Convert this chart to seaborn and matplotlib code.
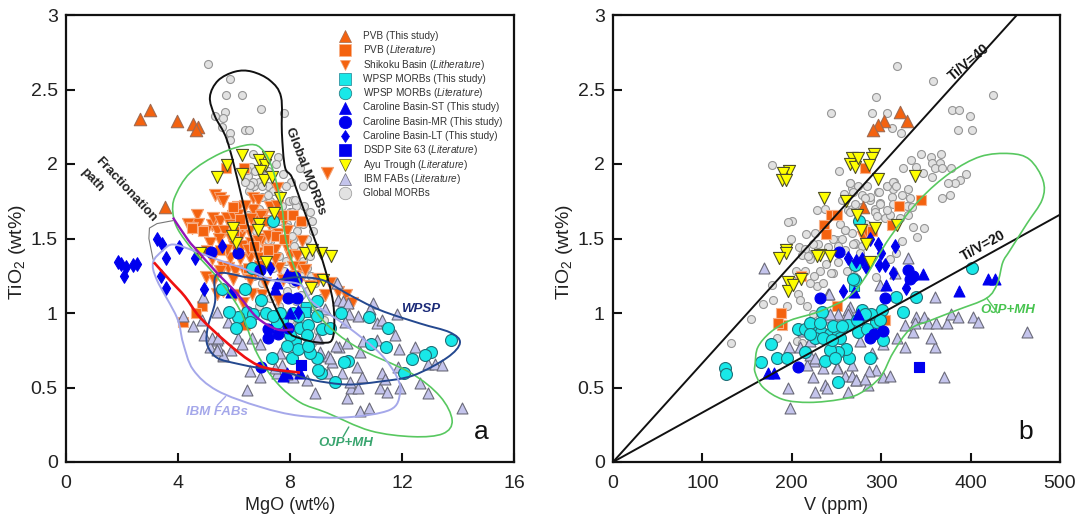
import numpy as np
import seaborn as sns
import matplotlib.pyplot as plt
from matplotlib.patches import PathPatch
from matplotlib.path import Path

# ---- panel a: MgO vs TiO2
a_morb = [(5.07,2.67),(5.86,2.57),(5.71,2.46),(6.29,2.46),(6.96,2.37),(7.79,2.34),(5.68,2.35),(5.32,2.32),(5.61,2.31),
          (5.57,2.25),(5.86,2.21),(5.86,2.16),(6.39,2.23),(6.54,2.23),(7.57,2.05),(6.68,2.07),(7.5,2.0),(6.6,1.98),(6.5,1.9),
          (6.55,1.82),(6.7,1.85),(6.9,1.88),(7.2,1.85),(7.4,1.82),(7.0,1.78),(7.3,1.75),(7.6,1.8),(7.7,1.72),(8.0,1.68),
          (8.2,1.72),(8.5,1.72),(8.3,1.6),(7.9,1.6),(7.5,1.7),(6.9,1.7),(7.1,1.62),(7.4,1.55),(7.7,1.5),(8.1,1.5),(8.3,1.42),
          (8.6,1.5),(8.8,1.62),(8.7,1.38),(8.0,1.4),(7.6,1.38),(7.3,1.48),(6.8,1.55),(6.5,1.66),(6.9,1.45),(7.1,1.38),(7.4,1.3),
          (7.8,1.28),(8.1,1.2),(8.4,1.25),(8.6,1.15),(8.9,1.2),(9.1,1.1),(8.8,1.05),(8.5,1.05),(8.3,0.92),(8.0,0.95),(7.6,1.05),
          (7.3,1.1),(7.0,1.2),(6.7,1.25),(6.4,1.3),(9.0,0.88),(9.2,0.95),(8.8,0.8),(7.95,1.75),(8.45,1.85),(8.35,1.97),(8.1,1.76),
          (7.2,1.95),(7.75,1.93),(8.05,1.88),(6.75,1.95),(8.6,1.3),(7.9,1.15),(6.9,1.05),(7.2,0.98),(8.2,1.08),(6.51,1.92),
          (6.69,1.88),(6.57,1.86),(7.0,1.85),(7.23,1.79),(7.85,1.85),(8.18,1.76),(8.06,1.68),(8.72,1.68),(8.48,1.6),(8.83,1.55),
          (8.24,1.55),(8.06,1.52),(7.23,1.49),(7.88,1.58),(6.45,1.96),(6.4,1.88),(7.1,1.92),(7.6,1.62),(8.15,1.45),(8.45,1.35),
          (8.75,1.25),(8.4,1.12),(9.0,1.0),(7.85,1.35)]
a_shikoku = [(5.32,1.79),(5.5,1.77),(5.62,1.75),(4.67,1.66),(4.55,1.59),(4.73,1.6),(5.2,1.59),(5.26,1.64),(5.5,1.62),(5.74,1.64),
             (5.98,1.65),(5.86,1.59),(6.16,1.71),(6.16,1.66),(6.39,1.62),(6.69,1.77),(6.87,1.76),(6.69,1.69),(7.29,1.71),(7.53,1.84),
             (7.58,1.53),(7.0,1.5),(6.22,1.51),(8.42,1.48),(7.11,1.37),(6.81,1.4),(6.57,1.37),(7.47,1.42),(7.17,1.42),(5.62,1.31),
             (5.8,1.3),(6.04,1.28),(6.39,1.27),(6.87,1.37),(7.0,1.31),(8.0,1.39),(8.24,1.38),(8.36,1.31),(8.54,1.29),(9.01,1.23),
             (9.43,1.2),(5.98,1.23),(6.57,1.22),(8.12,1.31),(9.31,1.94),(4.35,1.6),(4.5,1.57),(5.0,1.55),(5.4,1.55),(5.65,1.55),
             (5.9,1.5),(6.0,1.58),(6.3,1.58),(6.55,1.55),(6.75,1.62),(6.9,1.58),(7.05,1.66),(7.25,1.6),(6.4,1.72),(6.0,1.45),
             (6.3,1.45),(6.6,1.47),(6.85,1.48),(7.2,1.52),(7.55,1.72),(7.8,1.62),(7.85,1.45),(7.6,1.3),(7.3,1.3),(7.75,1.22),
             (8.3,1.2),(8.7,1.18),(9.7,1.14),(10.0,1.12),(10.2,1.07),(9.25,1.12),(5.39,1.13),(5.5,1.28),(5.2,1.36),(5.0,1.24),
             (5.3,1.22),(5.6,1.15),(6.04,1.12),(6.33,1.07),(6.63,1.13),(7.0,1.12),(7.1,1.2),(7.58,1.09),(6.75,1.27),
             (5.45,1.5),(5.15,1.47),(6.5,1.42),(6.2,1.36),(5.85,1.37),(7.35,1.62),(7.45,1.36),(7.9,1.55),(8.15,1.25),(6.95,1.65),
             (6.6,1.63),(5.75,1.42)]
a_pvb_this = [(2.64,2.3),(3.0,2.36),(3.96,2.29),(4.53,2.27),(4.71,2.25),(4.64,2.23),(3.54,1.71)]
a_pvb_lit = [(4.18,0.94),(4.86,1.05),(4.64,1.0),(6.36,1.97),(5.71,1.97),(4.5,1.57),(8.1,1.66),(6.3,1.6),(6.0,1.55),(6.7,1.45),
             (5.5,1.42),(7.7,1.66),(7.2,1.62),(8.4,1.62),(7.5,1.52),(6.39,0.92),(4.9,1.55),(5.98,1.71),(6.5,1.3),(5.0,1.42),(7.8,1.5),
             (6.2,1.63),(7.2,1.42),(6.9,1.32)]
a_fab = [(6.46,0.48),(4.18,0.98),(4.54,0.91),(4.86,0.95),(5.38,1.01),(4.93,0.85),(5.39,0.82),(5.14,0.77),(5.43,0.77),(5.89,0.75),
         (5.61,0.71),(6.15,0.83),(6.27,0.79),(6.63,0.83),(6.93,0.79),(6.57,0.61),(6.93,0.57),(7.54,0.6),(5.79,0.94),(4.89,1.11),
         (8.89,0.46),(10.04,0.43),(10.5,0.34),(10.82,0.36),(10.18,0.5),(10.43,0.5),(11.21,0.5),(11.46,0.47),(11.93,0.5),(12.64,0.53),
         (12.93,0.46),(14.14,0.36),(11.29,0.6),(10.57,0.57),(10.39,0.64),(9.86,0.6),(9.5,0.67),(9.36,0.71),(11.86,0.64),(12.93,0.66),
         (13.18,0.66),(13.43,0.65),(12.46,0.77),(11.89,0.76),(10.5,0.74),(9.75,0.77),(10.04,0.8),(10.61,0.81),(11.11,0.82),(11.75,0.85),
         (11.11,0.93),(11.29,0.95),(11.82,0.99),(10.96,1.07),(10.86,1.03),(10.43,0.98),(10.11,0.99),(9.96,0.94),(9.71,1.09),(9.9,1.08),
         (10.07,1.07),(9.68,1.2),(9.0,0.83),(9.25,1.03),(9.07,0.74),(8.61,0.55),(8.11,0.57),(9.36,0.6),(10.14,0.54),(11.39,0.56),
         (5.2,0.83),(5.44,0.83),(5.62,0.72),(5.38,0.75),(7.64,0.73),(7.7,0.65),(7.46,0.63),(7.88,0.59),(9.43,0.7),(9.66,0.78),(8.95,0.83)]
a_wpsp_lit = [(13.75,0.82),(13.04,0.74),(12.82,0.72),(12.36,0.69),(12.07,0.6),(11.43,0.77),(10.89,0.79),(11.5,0.9),(10.82,0.97),
              (9.82,1.0),(10.07,0.68),(9.93,0.67),(9.61,0.54),(9.11,0.6),(9.01,0.62),(8.96,0.7),(8.64,0.77),(8.71,0.73),(8.18,0.81),
              (8.06,0.7),(8.35,0.9),(8.65,0.92),(9.13,0.89),(9.43,0.9),(8.95,0.98),(8.95,1.08),(8.59,0.85),(8.0,0.85),(7.7,0.95),
              (7.64,1.0),(7.34,0.7),(7.16,1.0),(6.95,1.09),(6.45,1.01),(6.13,0.97),(5.83,1.01),(6.07,0.9),(6.69,0.99),(6.57,0.94),
              (5.57,1.16),(6.39,1.16),(6.64,1.3),(7.52,0.93),(7.4,0.98),(8.3,0.76),(8.65,0.78),(7.39,1.62),(8.11,1.0),(8.3,0.98),(7.9,0.78)]
a_wpsp_this = [(8.57,1.04),(8.53,1.01)]
a_st = [(8.0,1.0),(7.46,1.16),(7.88,1.26),(5.91,1.14),(7.75,0.58),(8.36,0.6),(7.89,0.6),(7.55,1.2)]
a_mr = [(5.18,1.41),(6.14,1.4),(6.93,1.29),(7.94,1.1),(8.26,1.1),(7.22,0.89),(7.22,0.83),(7.58,0.86),(7.94,0.9),(6.98,0.64),
        (8.18,1.24),(8.21,1.22),(7.95,1.24)]
a_lt = [(1.86,1.34),(1.95,1.33),(2.14,1.31),(2.07,1.25),(2.38,1.32),(2.54,1.33),(3.25,1.5),(3.43,1.46),(3.57,1.37),(4.04,1.44),
        (3.39,1.25),(3.57,1.17),(4.61,1.37),(4.93,1.16),(5.57,1.45),(7.29,1.3),(8.3,1.01)]
a_dsdp = [(8.41,0.65)]
a_ayu = [(6.29,2.06),(5.75,1.99),(5.39,1.91),(6.29,1.93),(6.89,2.03),(7.11,1.99),(6.93,1.95),(7.07,1.89),(7.36,1.91),(7.21,2.05),
         (7.64,1.77),(7.43,1.67),(5.96,1.57),(6.89,1.6),(6.86,1.56),(4.79,1.4),(6.07,1.47),(7.14,1.34),(8.54,1.4),(8.79,1.42),
         (9.11,1.4),(9.46,1.38),(9.18,1.22),(8.75,1.17),(5.93,1.52)]

a_outline_morb = [(5.14,2.45),(5.43,2.56),(6.04,2.62),(6.64,2.62),(7.29,2.56),(7.68,2.45),(7.71,2.21),(7.82,1.98),(8.07,1.91),
                  (8.46,1.71),(8.89,1.49),(9.18,1.34),(9.54,1.07),(9.54,0.84),(9.18,0.8),(8.36,0.83),(7.89,0.89),(7.18,1.17),
                  (6.57,1.54),(6.21,1.83),(5.75,2.16),(5.32,2.32)]
a_outline_ojp = [(3.82,1.67),(3.89,1.78),(4.43,1.94),(5.5,2.07),(6.57,2.13),(7.04,2.09),(7.39,1.96),(7.71,1.71),(7.89,1.46),
                 (8.46,1.17),(9.18,0.95),(10.39,0.77),(12.29,0.6),(13.36,0.44),(13.79,0.28),(13.46,0.19),(12.39,0.17),(10.86,0.21),
                 (9.32,0.33),(8.36,0.4),(7.54,0.53),(6.82,0.73),(6.21,1.02),(5.39,1.24),(4.54,1.42),(4.0,1.56)]
a_outline_wpsp = [(5.39,1.26),(5.32,1.07),(5.07,0.91),(5.04,0.79),(5.39,0.7),(6.11,0.66),(6.93,0.63),(7.89,0.6),(8.82,0.55),
                  (10.04,0.52),(11.21,0.54),(12.39,0.58),(13.61,0.7),(14.07,0.8),(13.71,0.87),(12.64,0.93),(11.21,1.02),
                  (10.04,1.13),(9.18,1.22),(8.25,1.24),(7.39,1.22),(6.46,1.24)]
a_outline_fab = [(3.11,1.34),(3.46,1.42),(3.82,1.46),(4.54,1.42),(5.39,1.36),(6.46,1.29),(7.39,1.22),(8.36,1.19),(8.82,1.07),
                 (10.04,0.91),(11.21,0.73),(11.82,0.57),(11.93,0.46),(11.57,0.35),(10.04,0.3),(8.36,0.31),(6.93,0.37),(5.39,0.48),
                 (4.54,0.62),(4.18,0.8),(3.96,0.97),(3.25,1.22)]
a_red_path = [(3.14,1.34),(3.71,1.22),(4.25,1.11),(4.79,0.97),(5.75,0.8),(6.57,0.68),(7.18,0.63),(8.36,0.6)]
a_purple_path = [(3.82,1.64),(4.36,1.49),(4.68,1.42),(5.39,1.27),(6.11,1.13),(6.82,0.97),(7.54,0.89),(8.11,0.89)]
a_bracket = [(3.82,1.62),(3.25,1.6),(2.98,1.57),(2.96,1.5),(3.11,1.36)]

# ---- panel b: V vs TiO2
b_morb = [(244,2.34),(178,1.99),(253,1.95),(200,1.62),(196,1.61),(199,1.5),(228,1.69),(237,1.7),(226,1.54),(208,1.44),(220,1.36),
          (217,1.4),(229,1.46),(240,1.44),(260,1.56),(267,1.54),(271,1.46),(251,1.49),(265,1.87),(260,1.78),(267,1.84),(274,1.85),
          (263,1.69),(274,1.71),(245,1.27),(252,1.34),(318,2.66),(358,2.56),(294,2.45),(425,2.46),(290,2.34),(306,2.34),(379,2.36),
          (387,2.36),(399,2.32),(386,2.23),(402,2.23),(322,2.21),(312,2.24),(345,2.07),(356,2.05),(367,2.07),(333,2.03),(366,2.01),
          (357,2.01),(339,1.98),(324,1.97),(360,1.97),(368,1.97),(378,1.97),(347,1.94),(357,1.91),(395,1.93),(388,1.89),(383,1.87),
          (375,1.87),(377,1.79),(368,1.77),(314,1.88),(306,1.85),(313,1.83),(330,1.83),(296,1.81),(284,1.85),(278,1.79),(287,1.76),
          (299,1.74),(312,1.78),(332,1.77),(329,1.72),(293,1.7),(278,1.71),(267,1.7),(304,1.64),(330,1.66),(336,1.58),(348,1.57),
          (340,1.51),(321,1.64),(271,1.47),(323,1.48),(310,1.36),(294,1.24),(254,1.6),(154,0.96),(132,0.8),(168,1.06),(179,1.09),
          (178,1.19),(195,1.05),(207,1.13),(209,1.09),(217,1.05),(228,1.18),(220,1.2),(246,1.27),(224,0.99),(206,0.81),(183,0.83),
          (211,0.8),(254,0.93),(215,1.43),(211,1.39),(218,1.38),(224,1.46),(256,1.76),(258,1.8),(265,1.87),(269,1.81),(287,1.78),
          (297,1.81),(282,1.77),(299,1.73),(293,1.68),(295,1.65),(271,1.73),(265,1.68),(259,1.56),(256,1.5),(246,1.5),(252,1.45),
          (269,1.46),(278,1.45),(259,1.42),(276,1.4),(306,1.85),(313,1.88),(317,1.85),(323,1.79),(313,1.73),(310,1.66),(334,1.71),
          (306,1.69),(244,1.27),(317,1.4),(216,1.53),(238,1.33),(232,1.28),(262,1.28),(270,1.25),(215,1.28),(225,1.25),(235,1.2),
          (205,1.28),(200,1.22),(283,1.6),(288,1.53)]
b_pvb_this = [(321,2.35),(329,2.29),(303,2.29),(296,2.26),(291,2.23),(280,1.71)]
b_pvb_lit = [(236,1.59),(244,1.66),(251,1.66),(238,1.53),(210,1.25),(282,1.97),(345,1.76),(320,1.72),(312,1.59),(290,1.55),(188,1.0),
             (189,0.92),(185,0.93),(251,1.05),(304,0.95)]
b_shikoku = [(280,1.51),(283,1.55)]
b_fab = [(169,1.3),(198,0.36),(196,0.5),(197,0.77),(226,0.47),(237,0.52),(239,0.5),(224,0.57),(263,0.47),(260,0.58),(267,0.58),
         (272,0.55),(251,0.64),(235,0.63),(224,0.84),(209,0.77),(225,0.68),(217,0.65),(240,1.13),(265,1.04),(240,0.97),(252,0.99),
         (263,1.02),(220,0.72),(463,0.87),(360,1.11),(370,0.57),(360,0.77),(327,0.77),(356,0.83),(336,0.87),(318,0.83),(327,0.92),
         (339,0.97),(338,0.93),(348,0.97),(352,0.93),(361,0.93),(374,0.93),(378,0.99),(386,0.97),(403,0.97),(408,0.94),(290,0.73),
         (294,0.62),(286,0.61),(302,0.57),(310,0.58),(276,0.81),(272,0.55),(285,0.52),(282,0.56),(302,0.79),(267,0.65),(330,1.37),(299,1.19),
         (242,1.13),(243,0.99),(263,0.99),(250,0.63),(226,0.7),(220,0.81),(315,1.27),(230,0.93),(212,0.88)]
b_wpsp_lit = [(125,0.63),(126,0.59),(165,0.67),(177,0.79),(183,0.7),(195,0.7),(207,0.89),(215,0.89),(224,0.87),(233,0.87),(243,0.86),
              (234,1.01),(263,0.92),(252,0.87),(271,1.22),(269,1.23),(271,1.32),(275,1.62),(402,1.3),(339,1.11),(317,1.11),(324,1.01),
              (302,0.82),(288,0.7),(264,0.7),(252,0.54),(261,0.76),(252,0.74),(294,0.94),(301,1.02),(289,0.99),(279,1.02),(274,0.87),
              (284,0.89),(243,0.75),(237,0.68),(248,0.7),(226,0.83),(235,0.83),(254,0.83),(215,0.74),(220,0.93),(246,0.91),(256,0.91),
              (273,0.95),(282,0.99),(299,0.95),(220,0.86),(232,0.93),(245,0.82)]
b_wpsp_this = [(270,1.18),(275,0.95)]
b_st = [(347,1.26),(305,1.19),(270,1.14),(387,1.15),(419,1.23),(427,1.23),(274,0.99),(173,0.6),(180,0.6)]
b_mr = [(253,1.41),(231,1.1),(207,0.64),(330,1.29),(336,1.25),(332,1.23),(304,1.1),(302,0.88),(292,0.86),(288,0.83)]
b_lt = [(263,1.37),(272,1.35),(278,1.36),(283,1.31),(287,1.5),(296,1.46),(300,1.4),(315,1.45),(298,1.32),(304,1.32),(313,1.27),
        (257,1.15),(328,1.17)]
b_dsdp = [(342,0.64)]
b_ayu = [(197,1.95),(190,1.94),(189,1.89),(193,1.89),(236,1.77),(193,1.42),(194,1.4),(186,1.37),(232,1.39),(243,1.38),(228,1.38),(267,2.04),
         (265,2.0),(271,1.98),(274,2.04),(261,1.75),(273,1.66),(196,1.21),(196,1.15),(201,1.19),(210,1.23),(292,2.07),(290,2.04),
         (286,1.99),(296,1.9),(338,1.92),(277,1.56),(293,1.57),(318,1.59),(288,1.34),(283,1.46)]
b_outline_ojp = [(159,0.66),(162,0.77),(176,0.87),(198,0.95),(235,1.02),(271,1.15),(310,1.51),(343,1.76),(377,1.94),(411,2.05),
                 (444,2.07),(466,2.03),(481,1.89),(480,1.76),(463,1.6),(444,1.42),(436,1.34),(430,1.2),(418,1.1),(385,1.02),
                 (355,0.95),(332,0.89),(313,0.73),(299,0.57),(276,0.46),(254,0.42),(220,0.4),(190,0.42),(168,0.5),(159,0.6)]
ti_v_lines = {"Ti/V=40": 3.32, "Ti/V=20": 1.66}  # TiO2 at V = 500 (40 runs off the top)

legend_labels = ["PVB (This study)", r"PVB ($\mathit{Literature}$)", r"Shikoku Basin ($\mathit{Litherature}$)",
                 "WPSP MORBs (This study)", r"WPSP MORBs ($\mathit{Literature}$)", "Caroline Basin-ST (This study)",
                 "Caroline Basin-MR (This study)", "Caroline Basin-LT (This study)", r"DSDP Site 63 ($\mathit{Literature}$)",
                 r"Ayu Trough ($\mathit{Literature}$)", r"IBM FABs ($\mathit{Literature}$)", "Global MORBs"]

# marker, size, face, edge
ORANGE = "#f4620f"
BLUE = "#0000ee"
STYLES = {
    "morb": ("o", 33, "#e2e2e2", "#969696"),
    "fab": ("^", 62, "#c4c4ec", "#6a6a78"),
    "shikoku": ("v", 76, ORANGE, "#f4a070"),
    "pvb_this": ("^", 80, ORANGE, "#a06a50"),
    "pvb_lit": ("s", 60, ORANGE, "#f8b088"),
    "wpsp_this": ("s", 52, "#18e8e8", "#208090"),
    "wpsp_lit": ("o", 74, "#18e8e8", "#207078"),
    "st": ("^", 62, BLUE, BLUE),
    "mr": ("o", 62, BLUE, BLUE),
    "lt": ("d", 48, BLUE, BLUE),
    "dsdp": ("s", 58, BLUE, BLUE),
    "ayu": ("v", 76, "#ffff00", "#505028"),
}
LEGEND_ORDER = ["pvb_this", "pvb_lit", "shikoku", "wpsp_this", "wpsp_lit", "st", "mr", "lt", "dsdp", "ayu", "fab", "morb"]
LEGEND_MS = {"pvb_this": 9, "pvb_lit": 8.5, "shikoku": 7, "wpsp_this": 8.5, "wpsp_lit": 9, "st": 8, "mr": 9, "lt": 6.5,
             "dsdp": 8.5, "ayu": 8, "fab": 9, "morb": 9}


def scatter(ax, pts, key):
    marker, size, face, edge = STYLES[key]
    sns.scatterplot(x=[p[0] for p in pts], y=[p[1] for p in pts], ax=ax, marker=marker, s=size,
                    color=face, edgecolor=edge, linewidth=0.8, legend=False, zorder=3, clip_on=False)


def smooth_curve(ax, pts, color, lw=1.5, closed=True, zorder=5):
    # Catmull-Rom through the vertices, drawn as bezier segments
    p = np.array(pts, dtype=float)
    n = len(p)
    verts = [p[0]]
    codes = [Path.MOVETO]
    for i in range(n if closed else n - 1):
        if closed:
            p0, p1, p2, p3 = p[(i - 1) % n], p[i], p[(i + 1) % n], p[(i + 2) % n]
        else:
            p0, p1, p2, p3 = p[max(i - 1, 0)], p[i], p[i + 1], p[min(i + 2, n - 1)]
        verts += [p1 + (p2 - p0) / 6, p2 - (p3 - p1) / 6, p2]
        codes += [Path.CURVE4] * 3
    ax.add_patch(PathPatch(Path(verts, codes), fill=False, edgecolor=color, lw=lw, zorder=zorder))


def style_axes(ax, xmax, xticks, xlabel, letter):
    ax.set_xlim(0, xmax)
    ax.set_ylim(0, 3)
    ax.set_xticks(xticks)
    ax.set_yticks([0, 0.5, 1, 1.5, 2, 2.5, 3])
    ax.set_yticklabels(["0", "0.5", "1", "1.5", "2", "2.5", "3"])
    ax.tick_params(direction="in", length=6.5, width=1.5, labelsize=14, color="#111111", labelcolor="#222222")
    ax.tick_params(axis="x", pad=9)
    ax.tick_params(axis="y", pad=6)
    for side in ax.spines:
        ax.spines[side].set_linewidth(1.6)
        ax.spines[side].set_color("#111111")
    ax.set_xlabel(xlabel, fontsize=13, labelpad=4, color="#222222")
    ax.set_ylabel(r"TiO$_2$ (wt%)", fontsize=14, color="#222222")
    ax.yaxis.set_label_coords(-0.085, 0.47)
    ax.text(0.927 if letter == "a" else 0.924, 0.067, letter, transform=ax.transAxes, fontsize=19,
            ha="center", va="center", color="#111111")


sns.set_theme(style="ticks")
plt.rcParams["font.family"] = ["Liberation Sans", "DejaVu Sans"]
plt.rcParams["mathtext.fontset"] = "custom"
plt.rcParams["mathtext.rm"] = "Liberation Sans"
plt.rcParams["mathtext.it"] = "Liberation Sans:italic"

fig = plt.figure(figsize=(10.8, 5.24), dpi=100)
ax_a = fig.add_axes([66 / 1080, 62 / 524, 448 / 1080, 447 / 524])
ax_b = fig.add_axes([613 / 1080, 62 / 524, 447 / 1080, 447 / 524])

# panel a
for pts, key in [(a_morb, "morb"), (a_shikoku, "shikoku"), (a_pvb_lit, "pvb_lit"), (a_pvb_this, "pvb_this"), (a_fab, "fab"),
                 (a_wpsp_this, "wpsp_this"), (a_wpsp_lit, "wpsp_lit"), (a_st, "st"), (a_mr, "mr"), (a_lt, "lt"),
                 (a_dsdp, "dsdp"), (a_ayu, "ayu")]:
    scatter(ax_a, pts, key)

smooth_curve(ax_a, a_outline_morb, "#111111", lw=1.4)
smooth_curve(ax_a, a_outline_ojp, "#58c860", lw=1.2)
smooth_curve(ax_a, a_outline_wpsp, "#24488f", lw=1.4)
smooth_curve(ax_a, a_outline_fab, "#a5a8ea", lw=1.4)
smooth_curve(ax_a, a_red_path, "#ee1111", lw=1.9, closed=False)
smooth_curve(ax_a, a_purple_path, "#9414b8", lw=1.7, closed=False)
ax_a.plot([p[0] for p in a_bracket], [p[1] for p in a_bracket], color="#777777", lw=0.8, zorder=4)
ax_a.plot([5.7, 5.4], [0.44, 0.38], color="#a5a8ea", lw=1.0, zorder=4)
ax_a.plot([10.1, 9.9], [0.235, 0.17], color="#3aa56f", lw=1.0, zorder=4)

ax_a.text(2.15, 1.83, "Fractionation", rotation=-47, fontsize=9.5, fontweight="bold", ha="center", va="center", color="#222222")
ax_a.text(0.93, 1.89, "path", rotation=-47, fontsize=9.5, fontweight="bold", ha="center", va="center", color="#222222")
ax_a.text(8.55, 1.95, "Global MORBs", rotation=-69, fontsize=9.5, fontweight="bold", ha="center", va="center", color="#222222", zorder=6)
ax_a.text(12.65, 1.03, "WPSP", fontsize=9.5, fontweight="bold", fontstyle="italic", ha="center", va="center", color="#1b2a78")
ax_a.text(10.0, 0.13, "OJP+MH", fontsize=9.5, fontweight="bold", fontstyle="italic", ha="center", va="center", color="#3aa56f")
ax_a.text(5.4, 0.335, "IBM FABs", fontsize=9.5, fontweight="bold", fontstyle="italic", ha="center", va="center", color="#a5a8ea")

# legend as even rows, mathtext throws off ax.legend spacing
for i, (key, label) in enumerate(zip(LEGEND_ORDER, legend_labels)):
    marker, size, face, edge = STYLES[key]
    row_y = (426 - 14.3 * i) / 447
    ax_a.plot([0.623], [row_y], transform=ax_a.transAxes, linestyle="none", marker=marker, markersize=LEGEND_MS[key],
              markerfacecolor=face, markeredgecolor=edge, markeredgewidth=0.5, zorder=6, clip_on=False)
    ax_a.text(0.663, row_y - 0.0065, label, transform=ax_a.transAxes, fontsize=7.2, va="baseline", ha="left", color="#333333")
style_axes(ax_a, 16, [0, 4, 8, 12, 16], "MgO (wt%)", "a")

# panel b
for pts, key in [(b_morb, "morb"), (b_shikoku, "shikoku"), (b_pvb_lit, "pvb_lit"), (b_pvb_this, "pvb_this"), (b_fab, "fab"),
                 (b_wpsp_this, "wpsp_this"), (b_wpsp_lit, "wpsp_lit"), (b_st, "st"), (b_mr, "mr"), (b_lt, "lt"),
                 (b_dsdp, "dsdp"), (b_ayu, "ayu")]:
    scatter(ax_b, pts, key)

for name, end in ti_v_lines.items():
    sns.lineplot(x=[0, 500], y=[0, end], ax=ax_b, color="#111111", linewidth=1.4, legend=False, zorder=4)
smooth_curve(ax_b, b_outline_ojp, "#58c860", lw=1.2)
ax_b.plot([418, 430], [1.1, 1.0], color="#58c860", lw=1.0, zorder=4)

ax_b.text(398, 2.68, "Ti/V=40", rotation=40, fontsize=10, fontweight="bold", ha="center", va="center", color="#111111")
ax_b.text(414, 1.45, "Ti/V=20", rotation=29, fontsize=10, fontweight="bold", ha="center", va="center", color="#111111")
ax_b.text(442, 1.02, "OJP+MH", fontsize=9.5, fontweight="bold", fontstyle="italic", ha="center", va="center", color="#48c450")
style_axes(ax_b, 500, [0, 100, 200, 300, 400, 500], "V (ppm)", "b")

fig.savefig("out.png", dpi=100)
